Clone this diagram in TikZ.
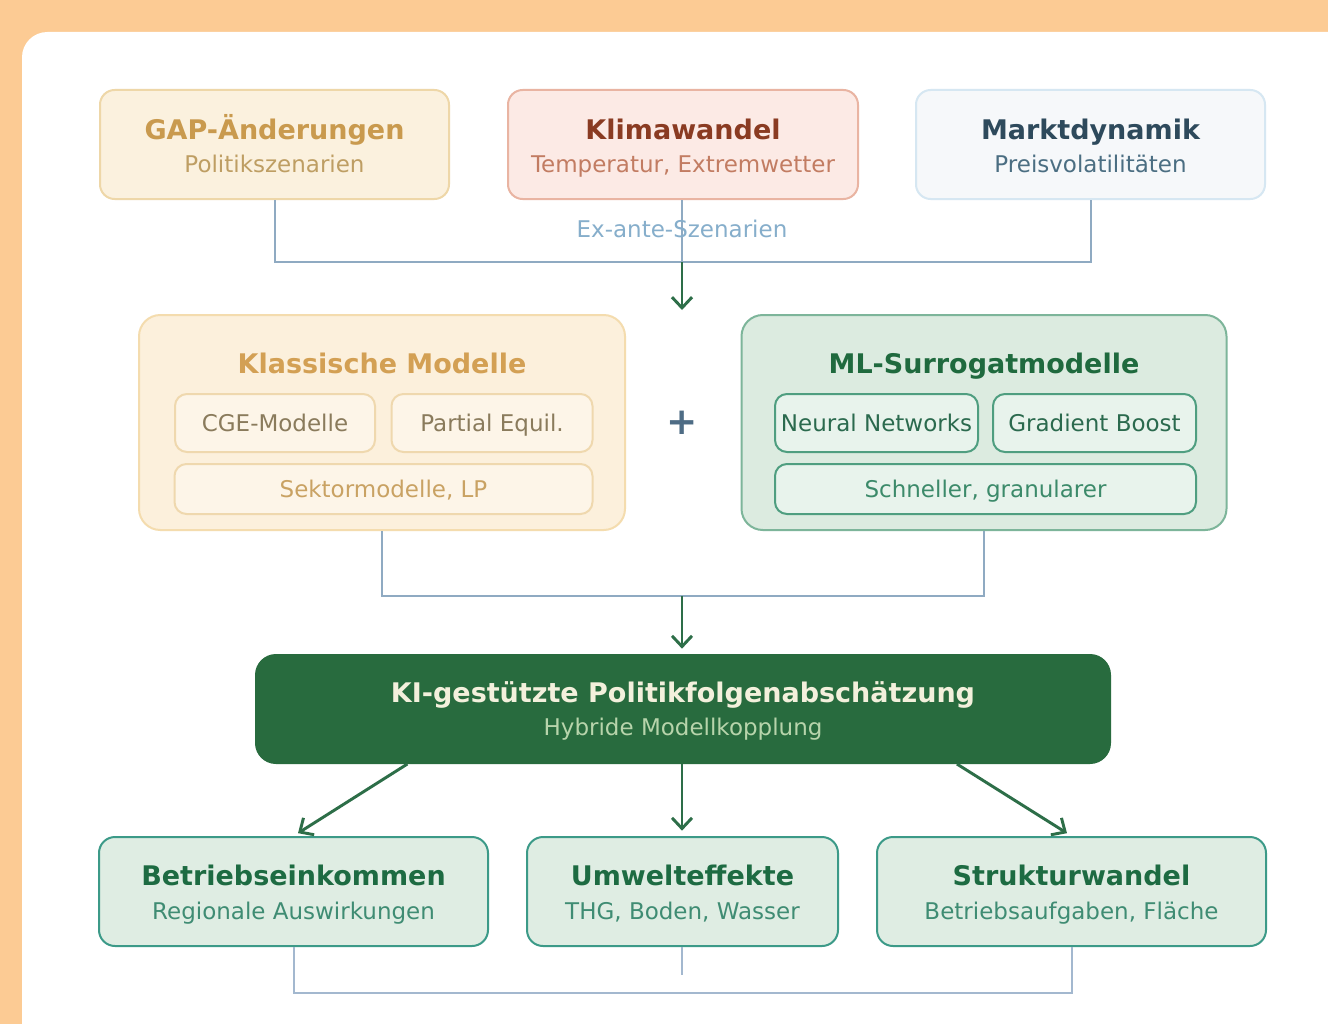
\documentclass[tikz,border=0pt]{standalone}
\usepackage{fontspec}
\setmainfont{DejaVu Sans}
\usetikzlibrary{arrows.meta,calc}

% palette
\definecolor{pagebg}{HTML}{FCCB94}
\definecolor{linkc}{HTML}{8FAAC2}
\definecolor{linkd}{HTML}{A3B8CF}
\definecolor{labelc}{HTML}{86AECB}
\definecolor{flowc}{HTML}{2D6E48}
\definecolor{plusc}{HTML}{4E6C85}
% policy scenario
\definecolor{gapfill}{HTML}{FBF1DE}
\definecolor{gapline}{HTML}{EED7A8}
\definecolor{gaptitle}{HTML}{C99A4E}
\definecolor{gapsub}{HTML}{BE9E63}
% climate
\definecolor{klfill}{HTML}{FCEAE5}
\definecolor{klline}{HTML}{E9B4A2}
\definecolor{kltitle}{HTML}{8A3B22}
\definecolor{klsub}{HTML}{C27C62}
% market
\definecolor{mkfill}{HTML}{F6F8FA}
\definecolor{mkline}{HTML}{D6E7F2}
\definecolor{mktitle}{HTML}{2E4A5C}
\definecolor{mksub}{HTML}{4B6E82}
% classic models
\definecolor{clfill}{HTML}{FCF0DC}
\definecolor{clline}{HTML}{F4DCAE}
\definecolor{cltitle}{HTML}{D3A054}
\definecolor{clinfill}{HTML}{FDF5E8}
\definecolor{clinline}{HTML}{EFD8AE}
\definecolor{clintext}{HTML}{8A7B5C}
\definecolor{clsektor}{HTML}{C9A263}
% ML models
\definecolor{mlfill}{HTML}{DCEBE0}
\definecolor{mlline}{HTML}{7DB59A}
\definecolor{mltitle}{HTML}{1F6A3E}
\definecolor{mlinfill}{HTML}{E8F3EC}
\definecolor{mlinline}{HTML}{4F9E80}
\definecolor{mlintext}{HTML}{2B6A4E}
\definecolor{mlfast}{HTML}{3C8A6A}
% central box
\definecolor{kifill}{HTML}{286B3E}
\definecolor{kititle}{HTML}{F3F0DC}
\definecolor{kisub}{HTML}{B7D4AB}
% outcomes
\definecolor{outfill}{HTML}{DFEDE3}
\definecolor{outline}{HTML}{3C9A88}
\definecolor{outtitle}{HTML}{1D6B42}
\definecolor{outsub}{HTML}{3F8C73}

\begin{document}
\begin{tikzpicture}[x=0.75pt,y=-0.75pt,
  ttl/.style={font=\fontsize{20.25}{24}\selectfont\bfseries, anchor=base, inner sep=0},
  sub/.style={font=\fontsize{17.25}{20}\selectfont, anchor=base, inner sep=0},
  card/.style={draw, line width=1.5pt, inner sep=0, rounded corners=11pt},
  panel/.style={card, rounded corners=16pt},
  inner/.style={card, rounded corners=9pt, minimum height={58*0.75pt}},
  outcome/.style={card, fill=outfill, draw=outline, rounded corners=12pt,
    minimum height={109*0.75pt}},
  link/.style={line width=1.5pt, draw=linkc},
  flow/.style={line width=2.2pt, draw=flowc,
    -{Straight Barb[length=8pt,width=15pt]}},
]
\useasboundingbox (0,0) rectangle (1328,1024);
\clip (0,0) rectangle (1328,1024);
\fill[pagebg] (0,0) rectangle (1328,1024);
\fill[white, rounded corners=19pt] (22,32) rectangle (1420,1120);

% ---- scenario drivers ----
\node[card, fill=gapfill, draw=gapline, minimum width={349*0.75pt}, minimum height={109*0.75pt}]
  (gap) at (274.5,144.5) {};
\node[ttl, text=gaptitle] (gapT) at (274.5,139) {GAP-Änderungen};
\node[sub, text=gapsub] (gapS) at (274.5,172) {Politikszenarien};

\node[card, fill=klfill, draw=klline, minimum width={350*0.75pt}, minimum height={109*0.75pt}]
  (klima) at (683,144.5) {};
\node[ttl, text=kltitle] (klimaT) at (683,139) {Klimawandel};
\node[sub, text=klsub] (klimaS) at (683,172) {Temperatur, Extremwetter};

\node[card, fill=mkfill, draw=mkline, minimum width={349*0.75pt}, minimum height={109*0.75pt}]
  (markt) at (1090.5,144.5) {};
\node[ttl, text=mktitle] (marktT) at (1090.5,139) {Marktdynamik};
\node[sub, text=mksub] (marktS) at (1090.5,172) {Preisvolatilitäten};

\coordinate (bus1) at (682,262);
\coordinate (inTop) at (682,310);
\draw[link] (gap.south) |- (bus1) -| (markt.south);
\draw[link] (klima.south -| bus1) -- (bus1);
\node[sub, text=labelc] (exante) at (682,237) {Ex-ante-Szenarien};
\draw[flow] (bus1) -- (inTop);

% ---- model families ----
\node[panel, fill=clfill, draw=clline, minimum width={486*0.75pt}, minimum height={215*0.75pt}]
  (klass) at (382,422.5) {};
\node[ttl, text=cltitle] (klassT) at (382,373) {Klassische Modelle};
\node[inner, fill=clinfill, draw=clinline, minimum width={200*0.75pt}] (cge) at (275,423) {};
\node[sub, text=clintext] (cgeT) at (275,431) {CGE-Modelle};
\node[inner, fill=clinfill, draw=clinline, minimum width={201*0.75pt}] (peq) at (492,423) {};
\node[sub, text=clintext] (peqT) at (492,431) {Partial Equil.};
\node[inner, fill=clinfill, draw=clinline, minimum width={418*0.75pt}, minimum height={50*0.75pt}]
  (sekt) at (383.5,489) {};
\node[sub, text=clsektor] (sektT) at (383.5,497) {Sektormodelle, LP};

\node[font=\fontsize{28}{28}\selectfont\bfseries, text=plusc, anchor=base, inner sep=0]
  (plus) at (682.5,434) {+};

\node[panel, fill=mlfill, draw=mlline, minimum width={485*0.75pt}, minimum height={215*0.75pt}]
  (ml) at (984,422.5) {};
\node[ttl, text=mltitle] (mlT) at (984,373) {ML-Surrogatmodelle};
\node[inner, fill=mlinfill, draw=mlinline, minimum width={203*0.75pt}] (nn) at (876.5,423) {};
\node[sub, text=mlintext] (nnT) at (876.5,431) {Neural Networks};
\node[inner, fill=mlinfill, draw=mlinline, minimum width={203*0.75pt}] (gb) at (1094.5,423) {};
\node[sub, text=mlintext] (gbT) at (1094.5,431) {Gradient Boost};
\node[inner, fill=mlinfill, draw=mlinline, minimum width={421*0.75pt}, minimum height={50*0.75pt}]
  (fast) at (985.5,489) {};
\node[sub, text=mlfast] (fastT) at (985.5,497) {Schneller, granularer};

\coordinate (bus2) at (682,596);
\draw[link] (klass.south) |- (bus2) -| (ml.south);

% ---- coupled assessment ----
\node[card, fill=kifill, draw=kifill, rounded corners=15pt,
  minimum width={854*0.75pt}, minimum height={108*0.75pt}] (ki) at (683,709) {};
\node[ttl, text=kititle] (kiT) at (683,702) {KI-gestützte Politikfolgenabschätzung};
\node[sub, text=kisub] (kiS) at (683,735) {Hybride Modellkopplung};
\draw[flow, shorten >=4pt] (bus2) -- (bus2 |- ki.north);

% ---- outcomes ----
\node[outcome, minimum width={389*0.75pt}] (betr) at (293.5,891.5) {};
\node[ttl, text=outtitle] (betrT) at (293.5,885) {Betriebseinkommen};
\node[sub, text=outsub] (betrS) at (293.5,919) {Regionale Auswirkungen};

\node[outcome, minimum width={311*0.75pt}] (umw) at (682.5,891.5) {};
\node[ttl, text=outtitle] (umwT) at (682.5,885) {Umwelteffekte};
\node[sub, text=outsub] (umwS) at (682.5,919) {THG, Boden, Wasser};

\node[outcome, minimum width={389*0.75pt}] (struk) at (1071.5,891.5) {};
\node[ttl, text=outtitle] (strukT) at (1071.5,885) {Strukturwandel};
\node[sub, text=outsub] (strukS) at (1071.5,919) {Betriebsaufgaben, Fläche};

\draw[flow, shorten >=4pt] ($(ki.south west)!0.178!(ki.south east)$) -- (betr.north);
\draw[flow, shorten >=4pt] (bus2 |- ki.south) -- (bus2 |- umw.north);
\draw[flow, shorten >=4pt] ($(ki.south west)!0.82!(ki.south east)$) -- (struk.north);

\coordinate (bus3) at (682,993);
\coordinate (umwEnd) at (682,975);
\draw[line width=1.5pt, draw=linkd] (betr.south) |- (bus3) -| (struk.south);
\draw[line width=1.5pt, draw=linkd] (bus3 |- umw.south) -- (umwEnd);
\end{tikzpicture}
\end{document}
